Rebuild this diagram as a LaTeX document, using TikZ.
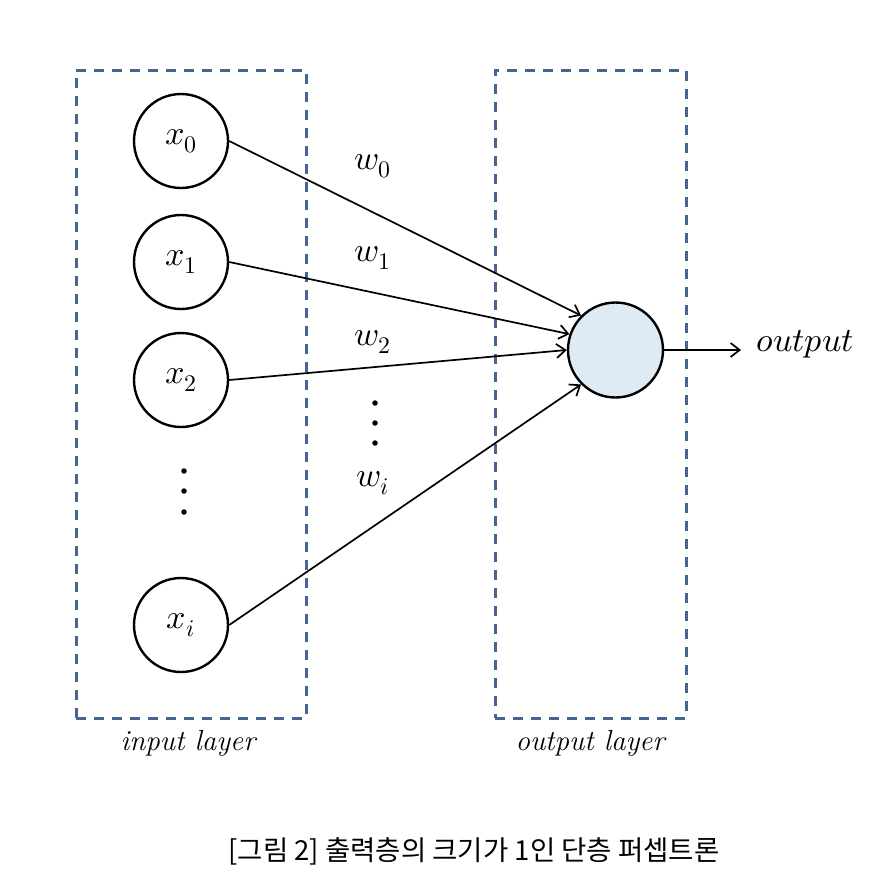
\documentclass[tikz,border=0pt]{standalone}
\usepackage{fontspec}
\usepackage{unicode-math}
\setmathfont{Latin Modern Math}
\newfontfamily\krfont{Noto Sans CJK KR}
\usetikzlibrary{arrows.meta}
\definecolor{boxblue}{RGB}{72,100,145}
\definecolor{outfill}{RGB}{222,235,244}
\begin{document}
\begin{tikzpicture}[x=1pt,y=-1pt,
  neuron/.style={circle,draw,line width=2.4pt,minimum size=94pt,inner sep=0pt,font=\fontsize{34}{40}\selectfont},
  layerbox/.style={draw=boxblue,line width=3pt,dash pattern=on 10pt off 8pt,inner sep=0pt},
  conn/.style={line width=1.7pt,-{Straight Barb[length=9pt,width=14pt,line width=1.7pt]}},
  wlab/.style={font=\fontsize{34}{40}\selectfont,inner sep=0pt},
  dotmark/.style={circle,fill,inner sep=0pt,minimum size=5.5pt},
  laylab/.style={font=\fontsize{29}{34}\selectfont\itshape,inner sep=0pt},
  captext/.style={font=\krfont\fontsize{27.5}{32}\selectfont,inner sep=0pt}]
\useasboundingbox (0,0) rectangle (889,886);
% layer boxes
\node[layerbox,minimum width=230pt,minimum height=648pt] (inbox) at (191,394) {};
\node[layerbox,minimum width=191pt,minimum height=648pt] (outbox) at (590.5,394) {};
% input neurons
\node[neuron] (x0) at (181,141) {$x_0$};
\node[neuron] (x1) at (181,262) {$x_1$};
\node[neuron] (x2) at (181,380) {$x_2$};
\node[neuron] (xi) at (181,625) {$x_i$};
\node[dotmark] (d1) at (184,471) {};
\node[dotmark] (d2) at (184,491) {};
\node[dotmark] (d3) at (184,512) {};
% output neuron
\node[neuron,fill=outfill,minimum size=95pt] (out) at (615.5,350) {};
% connections
\draw[conn] (x0.east) -- (out.135);
\draw[conn] (x1.east) -- (out.161);
\draw[conn] (x2.east) -- (out.180);
\draw[conn] (xi.east) -- (out.225);
% weights
\node[wlab] (w0) at (373,166) {$w_0$};
\node[wlab] (w1) at (373,258) {$w_1$};
\node[wlab] (w2) at (373,342) {$w_2$};
\node[dotmark] (e1) at (375,403) {};
\node[dotmark] (e2) at (375,423) {};
\node[dotmark] (e3) at (375,443) {};
\node[wlab] (wi) at (373,483) {$w_i$};
% output
\coordinate (oend) at (741,350);
\draw[conn] (out.east) -- (oend);
\node[wlab,anchor=west] (otext) at (756,344) {$output$};
% layer labels
\node[laylab] (inlab) at (188,743) {input layer};
\node[laylab] (outlab) at (590,743) {output layer};
% caption
\node[captext] (cap) at (474,851) {[그림 2] 출력층의 크기가 1인 단층 퍼셉트론};
\end{tikzpicture}
\end{document}
